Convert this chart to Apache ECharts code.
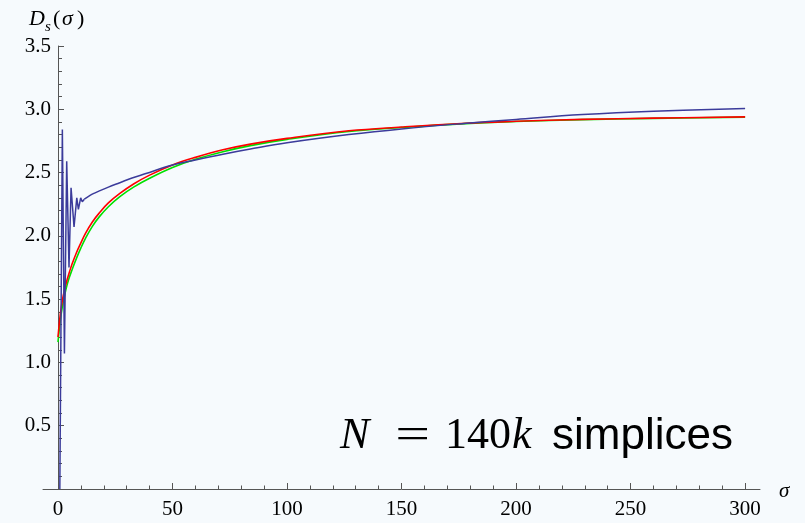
<!DOCTYPE html>
<html>
<head>
<meta charset="utf-8">
<script src="https://cdn.jsdelivr.net/npm/echarts@6/dist/echarts.min.js"></script>
<style>
  html, body { margin: 0; padding: 0; background: #f6fafd; }
  #chart { width: 805px; height: 523px; }
</style>
</head>
<body>
<div id="chart"></div>
<script>
// spectral dimension curves
const redSigma = [0, 1, 2, 3, 4, 5, 6, 8, 10, 12, 15, 18, 22, 27, 33, 40, 50, 60, 72, 84, 100, 127, 150, 178, 200, 229, 260, 300];
const redVal = [1.20, 1.38, 1.50, 1.585, 1.655, 1.715, 1.77, 1.865, 1.945, 2.02, 2.11, 2.18, 2.26, 2.335, 2.41, 2.48, 2.56, 2.62, 2.68, 2.725, 2.77, 2.83, 2.86, 2.89, 2.905, 2.92, 2.93, 2.94];

const greenSigma = redSigma;
const greenVal = [1.16, 1.33, 1.45, 1.54, 1.615, 1.675, 1.725, 1.82, 1.905, 1.98, 2.075, 2.15, 2.23, 2.31, 2.385, 2.455, 2.54, 2.605, 2.665, 2.713, 2.762, 2.825, 2.856, 2.887, 2.903, 2.918, 2.928, 2.938];

// blue: jagged start, then a smooth tail
const blueEarlySigma = [0.8, 1.9, 2.8, 3.8, 4.8, 5.7, 7.0, 8.2, 8.9, 9.9, 10.6, 11.5];
const blueEarlyVal = [0.0, 2.84, 1.07, 2.59, 1.75, 2.38, 2.07, 2.30, 2.21, 2.30, 2.27, 2.29];
const blueLateSigma = [11.5, 14, 16.2, 18.3, 22, 27, 32, 38, 50, 60, 72, 84, 100, 127, 150, 178.5, 200, 229, 260, 300];
const blueLateVal = [2.29, 2.32, 2.34, 2.357, 2.385, 2.42, 2.455, 2.49, 2.56, 2.60, 2.645, 2.686, 2.735, 2.80, 2.845, 2.89, 2.92, 2.958, 2.985, 3.007];

const xMajorTicks = [0, 50, 100, 150, 200, 250, 300];
const xMinorTicks = [];
for (let v = 0; v <= 300; v += 10) xMinorTicks.push(v);

function pairs(xs, ys) {
    return xs.map((x, i) => [x, ys[i]]);
}

const axisColor = '#555';
const serif = '"Liberation Serif", "DejaVu Serif", serif';

const myChart = echarts.init(document.getElementById('chart'));

const option = {
    backgroundColor: '#f6fafd',
    animation: false,
    grid: {
        left: 43,
        right: 45,
        top: 46,
        bottom: 34,
        outerBoundsMode: 'none'
    },
    xAxis: [{
        type: 'value',
        min: -6.55,
        max: 306.5,
        position: 'bottom',
        axisLine: { lineStyle: { color: axisColor, width: 1 } },
        axisTick: {
            inside: true,
            length: 6,
            customValues: xMajorTicks,
            lineStyle: { color: axisColor }
        },
        axisLabel: {
            customValues: xMajorTicks,
            margin: 10,
            color: '#000',
            fontFamily: serif,
            fontSize: 21
        },
        splitLine: { show: false }
    }, {
        type: 'value',
        min: -6.55,
        max: 306.5,
        position: 'bottom',
        axisLine: { show: false },
        axisTick: {
            inside: true,
            length: 3.5,
            customValues: xMinorTicks,
            lineStyle: { color: axisColor }
        },
        axisLabel: { show: false },
        splitLine: { show: false }
    }],
    yAxis: {
        type: 'value',
        min: 0,
        max: 3.5,
        interval: 0.5,
        // sit the axis on sigma = 0 (15px right of the grid edge)
        offset: -15,
        axisLine: { show: true, onZero: false, lineStyle: { color: axisColor, width: 1 } },
        axisTick: { inside: true, length: 6, lineStyle: { color: axisColor } },
        minorTick: { show: true, splitNumber: 5, length: 4, lineStyle: { color: axisColor } },
        axisLabel: {
            margin: 7,
            color: '#000',
            fontFamily: serif,
            fontSize: 21,
            formatter: v => (v === 0 ? '' : v.toFixed(1))
        },
        splitLine: { show: false }
    },
    series: [{
        name: 'green',
        type: 'line',
        xAxisIndex: 0,
        data: pairs(greenSigma, greenVal),
        smooth: 0.4,
        showSymbol: false,
        lineStyle: { color: '#00e000', width: 1.6 },
        z: 2
    }, {
        name: 'red',
        type: 'line',
        xAxisIndex: 0,
        data: pairs(redSigma, redVal),
        smooth: 0.4,
        showSymbol: false,
        lineStyle: { color: '#ff0000', width: 1.6 },
        z: 3
    }, {
        name: 'blueEarly',
        type: 'line',
        xAxisIndex: 0,
        data: pairs(blueEarlySigma, blueEarlyVal),
        showSymbol: false,
        lineStyle: { color: '#3b3b9b', width: 1.5 },
        z: 4
    }, {
        name: 'blueLate',
        type: 'line',
        xAxisIndex: 0,
        data: pairs(blueLateSigma, blueLateVal),
        smooth: 0.4,
        showSymbol: false,
        lineStyle: { color: '#3b3b9b', width: 1.5 },
        z: 4
    }],
    graphic: [
        // axis titles
        { type: 'text', x: 29, y: 19.5, style: { text: 'D', font: 'italic 22px ' + serif, fill: '#000', align: 'left', verticalAlign: 'middle' } },
        { type: 'text', x: 45, y: 27, style: { text: 's', font: 'italic 15px ' + serif, fill: '#000', align: 'left', verticalAlign: 'middle' } },
        { type: 'text', x: 53, y: 19.5, style: { text: '(', font: '22px ' + serif, fill: '#000', align: 'left', verticalAlign: 'middle' } },
        { type: 'text', x: 62, y: 19.5, style: { text: 'σ', font: 'italic 22px ' + serif, fill: '#000', align: 'left', verticalAlign: 'middle' } },
        { type: 'text', x: 77, y: 19.5, style: { text: ')', font: '22px ' + serif, fill: '#000', align: 'left', verticalAlign: 'middle' } },
        { type: 'text', x: 779, y: 491.6, style: { text: 'σ', font: 'italic 21px ' + serif, fill: '#000', align: 'left', verticalAlign: 'middle' } },
        // annotation
        { type: 'text', x: 340, y: 436.4, style: { text: 'N', font: 'italic 44px ' + serif, fill: '#000', align: 'left', verticalAlign: 'middle' } },
        { type: 'text', x: 412.5, y: 436.4, scaleX: 1.4, style: { text: '=', font: '44px ' + serif, fill: '#000', align: 'center', verticalAlign: 'middle' } },
        { type: 'text', x: 445, y: 436.4, style: { text: '140', font: '44px ' + serif, fill: '#000', align: 'left', verticalAlign: 'middle' } },
        { type: 'text', x: 512, y: 436.4, style: { text: 'k', font: 'italic 44px ' + serif, fill: '#000', align: 'left', verticalAlign: 'middle' } },
        { type: 'text', x: 552, y: 436.4, style: { text: 'simplices', font: '44px "Liberation Sans", Arial, sans-serif', fill: '#000', align: 'left', verticalAlign: 'middle' } }
    ]
};

myChart.setOption(option);

window.addEventListener('resize', function () {
    myChart.resize();
});
</script>
</body>
</html>
